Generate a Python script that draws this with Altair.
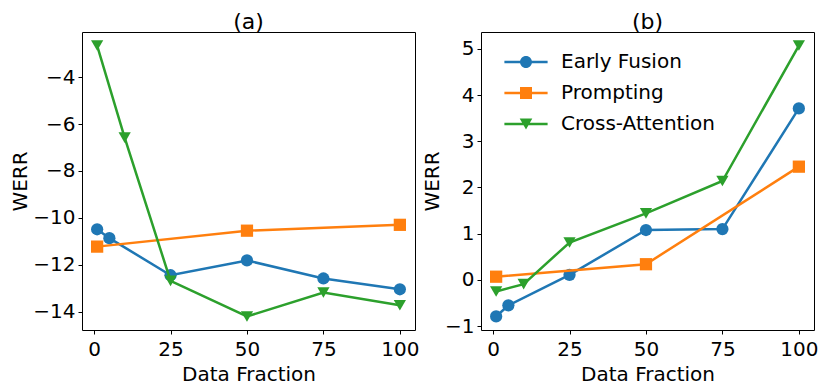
import altair as alt
import pandas as pd

series = ["Early Fusion", "Prompting", "Cross-Attention"]
colors = ["#1f77b4", "#ff7f0e", "#2ca02c"]
shapes = ["circle", "square", "triangle-down"]

x_early = [1, 5, 25, 50, 75, 100]
x_prompt = [1, 50, 100]
x_cross = [1, 10, 25, 50, 75, 100]

a_early = [-10.49, -10.87, -12.45, -11.82, -12.59, -13.05]
a_prompt = [-11.23, -10.55, -10.30]
a_cross = [-2.65, -6.58, -12.69, -14.21, -13.19, -13.73]

b_early = [-0.79, -0.55, 0.11, 1.08, 1.10, 3.71]
b_prompt = [0.07, 0.34, 2.45]
b_cross = [-0.25, -0.09, 0.81, 1.44, 2.14, 5.07]

x_ticks = [0, 25, 50, 75, 100]
a_ticks = [-14, -12, -10, -8, -6, -4]
b_ticks = [-1, 0, 1, 2, 3, 4, 5]

# legend symbols: line segment through the marker (unit box coordinates)
legend_paths = [
    "M-3.6,-0.21 H3.6 V0.21 H-3.6 Z M1,0 A1,1 0 1,1 -1,0 A1,1 0 1,1 1,0 Z",
    "M-3.6,-0.21 H3.6 V0.21 H-3.6 Z M-1,-1 H1 V1 H-1 Z",
    "M-3.6,-0.21 H3.6 V0.21 H-3.6 Z M0,0.9 L-1.05,-0.9 L1.05,-0.9 Z",
]

FONT = "DejaVu Sans"
PW, PH, GAP = 333, 298, 66


def frame(xs, ys):
    rows = []
    for name, xv, yv in zip(series, xs, ys):
        for x, y in zip(xv, yv):
            rows.append({"series": name, "x": x, "y": y})
    return pd.DataFrame(rows)


def panel(df, title, yticks, legend):
    xmin, xmax = df.x.min(), df.x.max()
    ymin, ymax = df.y.min(), df.y.max()
    mx = 0.05 * (xmax - xmin)
    my = 0.05 * (ymax - ymin)
    xs = alt.Scale(domain=[xmin - mx, xmax + mx], nice=False, zero=False)
    ys = alt.Scale(domain=[ymin - my, ymax + my], nice=False, zero=False)
    X = alt.X("x:Q", scale=xs, axis=alt.Axis(values=x_ticks, title="Data Fraction", format="d"))
    Y = alt.Y("y:Q", scale=ys, axis=alt.Axis(values=yticks, title="WERR", format="d"))
    base = alt.Chart(df)
    layers = []
    for name, c, s in zip(series, colors, shapes):
        sub = base.transform_filter(alt.datum.series == name)
        layers.append(sub.mark_line(color=c, strokeWidth=2.5).encode(x=X, y=Y))
        layers.append(
            sub.mark_point(shape=s, filled=True, color=c, size=150, opacity=1, strokeWidth=0).encode(x=X, y=Y)
        )
    if legend:
        leg = alt.Legend(
            title=None, orient="none", legendX=PW + GAP + 35, legendY=20, padding=0,
            labelFontSize=20, labelFont=FONT, labelColor="black", labelLimit=400,
            symbolSize=144, labelOffset=25, rowPadding=11, symbolStrokeWidth=0,
        )
        layers.append(
            base.transform_filter("false")
            .mark_point(filled=True, opacity=1, size=144, strokeWidth=0)
            .encode(
                x=X, y=Y,
                fill=alt.Fill("series:N", scale=alt.Scale(domain=series, range=colors), legend=leg),
                shape=alt.Shape("series:N", scale=alt.Scale(domain=series, range=legend_paths), legend=leg),
            )
        )
    return alt.layer(*layers).properties(width=PW, height=PH, title=title)


left = panel(frame([x_early, x_prompt, x_cross], [a_early, a_prompt, a_cross]), "(a)", a_ticks, False)
right = panel(frame([x_early, x_prompt, x_cross], [b_early, b_prompt, b_cross]), "(b)", b_ticks, True)

chart = (
    alt.hconcat(left, right, spacing=GAP, bounds="flush")
    .resolve_scale(x="independent", y="independent")
    .properties(padding={"left": 2, "top": 2, "right": 0, "bottom": 0})
    .configure_view(stroke="black", strokeWidth=1)
    .configure_axis(
        domain=False, grid=False, tickColor="black", tickSize=4, tickWidth=1,
        labelFontSize=20, titleFontSize=20, labelFont=FONT, titleFont=FONT,
        labelColor="black", titleColor="black", titleFontWeight="normal", labelPadding=3,
    )
    .configure_axisX(titlePadding=5, labelPadding=5)
    .configure_axisY(titlePadding=2)
    .configure_title(fontSize=22, font=FONT, fontWeight="normal", color="black", offset=-2)
)

chart.save("out.html", embed_options={"renderer": "svg", "actions": False})
